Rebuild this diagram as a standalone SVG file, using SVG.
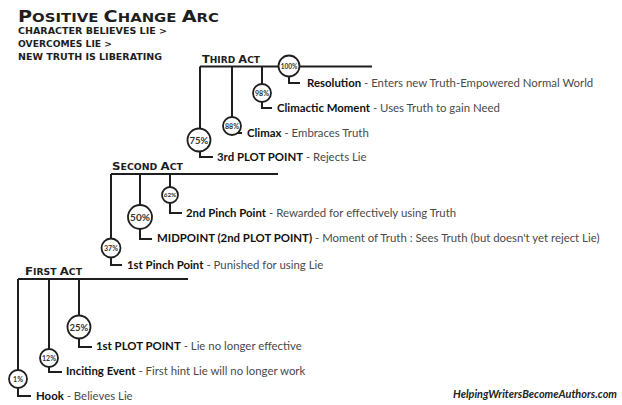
<svg xmlns="http://www.w3.org/2000/svg" width="622" height="405" viewBox="0 0 622 405">
<style>
.bg{fill:#fff}
.ln{fill:none;stroke:#1e1e1e;stroke-width:2}
.pc{fill:#fff;stroke:#1e1e1e;stroke-width:1.8}
.pt{font-family:Lato,"Liberation Sans",sans-serif;font-weight:bold;fill:#333;text-anchor:middle}
.lb{font-family:Lato,"Liberation Sans",sans-serif;font-size:11.4px;fill:#4a4a4a}
.lb .b{font-weight:bold;fill:#111}
.hd{font-family:"DejaVu Sans",Arial,sans-serif;font-weight:bold;fill:#1e1e1e}
.hd .s{font-size:8.3px}
.hd .g{font-size:10.5px}
.sub{font-family:"DejaVu Sans",Arial,sans-serif;font-weight:bold;font-size:9.2px;fill:#1e1e1e}
.wm{font-family:Lato,"Liberation Sans",sans-serif;font-weight:bold;font-style:italic;font-size:11px;fill:#222}
</style>
<rect class="bg" x="0" y="0" width="622" height="405"/>
<g id="title">
<text class="hd" x="18" y="22" textLength="201" lengthAdjust="spacingAndGlyphs"><tspan style="font-size:16.5px">P</tspan><tspan style="font-size:12.8px">OSITIVE </tspan><tspan style="font-size:16.5px">C</tspan><tspan style="font-size:12.8px">HANGE </tspan><tspan style="font-size:16.5px">A</tspan><tspan style="font-size:12.8px">RC</tspan></text>
<text class="sub" x="18" y="34" textLength="149" lengthAdjust="spacingAndGlyphs">CHARACTER BELIEVES LIE &gt;</text>
<text class="sub" x="18" y="47" textLength="94" lengthAdjust="spacingAndGlyphs">OVERCOMES LIE &gt;</text>
<text class="sub" x="18" y="60" textLength="144" lengthAdjust="spacingAndGlyphs">NEW TRUTH IS LIBERATING</text>
</g>
<g id="connectors">
<path class="ln" d="M200,66.5 H372"/>
<path class="ln" d="M111,174 H278"/>
<path class="ln" d="M18,279 H188"/>
<path class="ln" d="M200,66.5 V157 H213"/>
<path class="ln" d="M232,66.5 V133 H242"/>
<path class="ln" d="M262,66.5 V108 H272"/>
<path class="ln" d="M289,66.5 V83 H300"/>
<path class="ln" d="M111,174 V265 H122"/>
<path class="ln" d="M140,174 V239 H152"/>
<path class="ln" d="M170,174 V213 H182"/>
<path class="ln" d="M18,279 V396 H31"/>
<path class="ln" d="M49,279 V372 H62"/>
<path class="ln" d="M79,279 V347 H92"/>
</g>
<g id="third-act-header"><text class="hd" x="202" y="62.5" textLength="58" lengthAdjust="spacingAndGlyphs"><tspan class="g">T</tspan><tspan class="s">HIRD </tspan><tspan class="g">A</tspan><tspan class="s">CT</tspan></text></g>
<g id="second-act-header"><text class="hd" x="112" y="170" textLength="71" lengthAdjust="spacingAndGlyphs"><tspan class="g">S</tspan><tspan class="s">ECOND </tspan><tspan class="g">A</tspan><tspan class="s">CT</tspan></text></g>
<g id="first-act-header"><text class="hd" x="25" y="275" textLength="57" lengthAdjust="spacingAndGlyphs"><tspan class="g">F</tspan><tspan class="s">IRST </tspan><tspan class="g">A</tspan><tspan class="s">CT</tspan></text></g>
<g id="n100"><circle class="pc" cx="289" cy="66" r="10.5"/><text class="pt" x="289" y="68.5" font-size="6.5">100%</text>
<text class="lb" x="307" y="87"><tspan class="b">Resolution</tspan> - Enters new Truth-Empowered Normal World</text></g>
<g id="n98"><circle class="pc" cx="262" cy="93" r="9"/><text class="pt" x="262" y="95.5" font-size="7">98%</text>
<text class="lb" x="277" y="112"><tspan class="b">Climactic Moment</tspan> - Uses Truth to gain Need</text></g>
<g id="n88"><circle class="pc" cx="232" cy="126" r="9"/><text class="pt" x="232" y="128.5" font-size="7">88%</text>
<text class="lb" x="247" y="137"><tspan class="b">Climax</tspan> - Embraces Truth</text></g>
<g id="n75"><circle class="pc" cx="199" cy="140" r="11.5"/><text class="pt" x="199" y="143.5" font-size="9.5">75%</text>
<text class="lb" x="217" y="161"><tspan class="b">3rd PLOT POINT</tspan> - Rejects Lie</text></g>
<g id="n62"><circle class="pc" cx="170" cy="195" r="8"/><text class="pt" x="170" y="197.3" font-size="6.3">62%</text>
<text class="lb" x="186" y="217"><tspan class="b">2nd Pinch Point</tspan> - Rewarded for effectively using Truth</text></g>
<g id="n50"><circle class="pc" cx="140" cy="217" r="12"/><text class="pt" x="140" y="220.5" font-size="10">50%</text>
<text class="lb" x="157" y="242"><tspan class="b">MIDPOINT (2nd PLOT POINT)</tspan> - Moment of Truth : Sees Truth (but doesn't yet reject Lie)</text></g>
<g id="n37"><circle class="pc" cx="111" cy="248" r="9.5"/><text class="pt" x="111" y="250.5" font-size="7">37%</text>
<text class="lb" x="127" y="269"><tspan class="b">1st Pinch Point</tspan> - Punished for using Lie</text></g>
<g id="n25"><circle class="pc" cx="79" cy="327" r="11.5"/><text class="pt" x="79" y="330.5" font-size="9.5">25%</text>
<text class="lb" x="96" y="350"><tspan class="b">1st PLOT POINT</tspan> - Lie no longer effective</text></g>
<g id="n12"><circle class="pc" cx="49" cy="358" r="9"/><text class="pt" x="49" y="360.5" font-size="7">12%</text>
<text class="lb" x="66" y="375"><tspan class="b">Inciting Event</tspan> - First hint Lie will no longer work</text></g>
<g id="n1"><circle class="pc" cx="18" cy="379" r="9"/><text class="pt" x="18" y="381.5" font-size="7">1%</text>
<text class="lb" x="36" y="400"><tspan class="b">Hook</tspan> - Believes Lie</text></g>
<g id="watermark"><text class="wm" x="453" y="398" textLength="164" lengthAdjust="spacingAndGlyphs">HelpingWritersBecomeAuthors.com</text></g>
</svg>
